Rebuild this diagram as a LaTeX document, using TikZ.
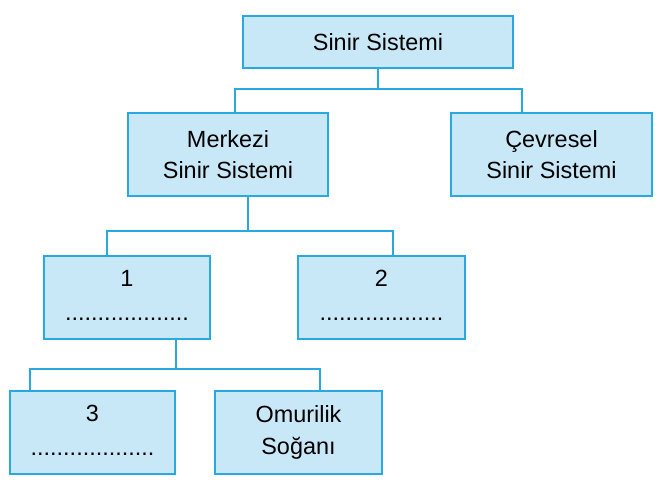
\documentclass[tikz,border=0pt]{standalone}
\usepackage{fontspec}
\setmainfont{Liberation Sans}
\definecolor{boxline}{RGB}{40,170,225}
\definecolor{boxfill}{RGB}{200,232,248}
\tikzset{
  every box/.style={draw=boxline, fill=boxfill, line width=0.06cm, align=center,
    font=\fontsize{20}{27}\selectfont, inner sep=0pt},
  link/.style={draw=boxline, line width=0.06cm},
}
\newcommand{\blank}{...................}
\begin{document}
\begin{tikzpicture}[x=0.03cm, y=-0.03cm]
\useasboundingbox (0,0) rectangle (664,485);

\node [every box, minimum width=8.1cm, minimum height=1.56cm] (sinir) at (378,42) {Sinir Sistemi};
\node [every box, minimum width=6cm, minimum height=2.49cm] (merkezi) at (228,154.5) {Merkezi\\Sinir Sistemi};
\node [every box, minimum width=6cm, minimum height=2.49cm] (cevresel) at (551.5,154.5) {Çevresel\\Sinir Sistemi};
\node [every box, minimum width=5cm, minimum height=2.49cm] (bir) at (127,297.5) {};
\node [every box, minimum width=5cm, minimum height=2.49cm] (iki) at (381.5,297.5) {};
\node [every box, minimum width=4.95cm, minimum height=2.49cm] (uc) at (92.5,432.5) {};
\node [every box, minimum width=5cm, minimum height=2.49cm] (omurilik) at (298.5,432.5) {Omurilik\\Soğanı};

\foreach \b/\n in {bir/1, iki/2, uc/3}{
  \node [font=\fontsize{20}{24}\selectfont] (\b-num) at ([yshift=-0.7cm]\b.north) {\n};
  \node [font=\fontsize{20}{24}\selectfont] (\b-dots) at ([yshift=0.62cm]\b.south) {\blank};
}

\coordinate (j1) at ([yshift=-0.6cm]sinir.south);
\coordinate (j2) at ([yshift=-1.02cm]merkezi.south -| 248,0);
\coordinate (j3) at ([yshift=-0.87cm]bir.south -| 176,0);

\draw [link] (sinir.south) -- (j1);
\draw [link] ([xshift=0.21cm]merkezi.north) |- (j1) -| ([xshift=-0.88cm]cevresel.north);
\draw [link] (merkezi.south -| j2) -- (j2);
\draw [link] ([xshift=-0.6cm]bir.north) |- (j2) -| ([xshift=0.33cm]iki.north);
\draw [link] (bir.south -| j3) -- (j3);
\draw [link] ([xshift=-1.88cm]uc.north) |- (j3) -| ([xshift=0.65cm]omurilik.north);
\end{tikzpicture}
\end{document}
